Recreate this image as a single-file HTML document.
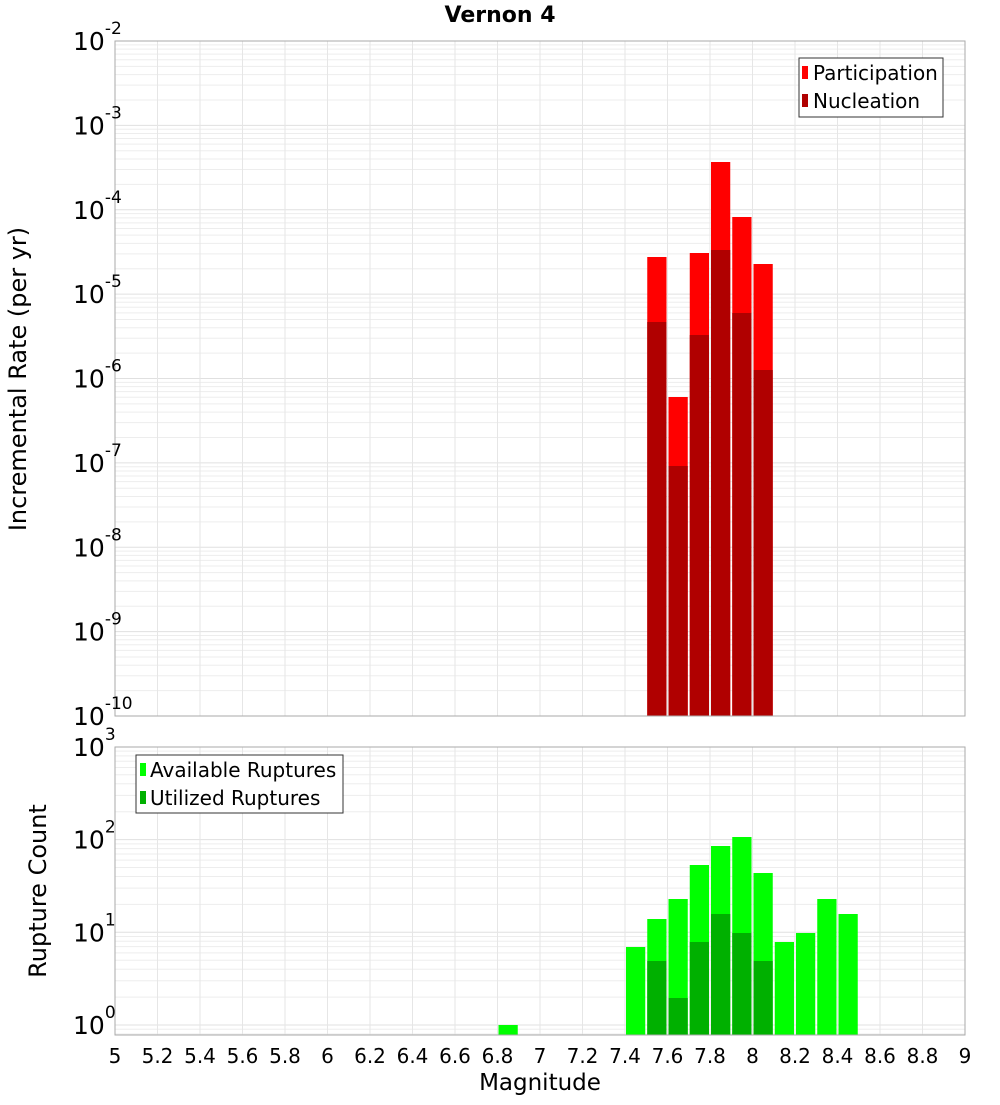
<!DOCTYPE html>
<html><head><meta charset="utf-8"><style>
body{margin:0;background:#fff}
svg text{font-family:"DejaVu Sans","Liberation Sans",sans-serif}
</style></head><body>
<svg id="s" width="1000" height="1100" xmlns="http://www.w3.org/2000/svg">
<rect width="1000" height="1100" fill="#fff"/>
<g id="grid"></g>
<g id="bars"></g>
<rect x="115" y="41" width="850" height="675" fill="none" stroke="#aaa"/>
<rect x="115" y="747" width="850" height="288" fill="none" stroke="#aaa"/>
<text x="500" y="22" text-anchor="middle" font-size="22" font-weight="bold">Vernon 4</text>
<g id="lab" font-size="24"></g>
<text transform="translate(26,379) rotate(-90)" text-anchor="middle" font-size="24">Incremental Rate (per yr)</text>
<text transform="translate(46,891) rotate(-90)" text-anchor="middle" font-size="24">Rupture Count</text>
<text x="540" y="1090" text-anchor="middle" font-size="23">Magnitude</text>
<rect x="799" y="58" width="144" height="59" fill="#fff" stroke="#333"/>
<rect x="802" y="66" width="6" height="13" fill="#f00"/><text x="813" y="80" font-size="20">Participation</text>
<rect x="802" y="94" width="6" height="13" fill="#b00000"/><text x="813" y="108" font-size="20">Nucleation</text>
<rect x="136" y="755" width="207" height="58" fill="#fff" stroke="#333"/>
<rect x="140" y="763" width="6" height="13" fill="#0f0"/><text x="150" y="777" font-size="20">Available Ruptures</text>
<rect x="140" y="791" width="6" height="13" fill="#00b000"/><text x="150" y="805" font-size="20">Utilized Ruptures</text>
</svg>
<script>
const NS="http://www.w3.org/2000/svg";
function el(p,t,a,txt){const e=document.createElementNS(NS,t);for(const k in a)e.setAttribute(k,a[k]);if(txt!==undefined)e.textContent=txt;document.getElementById(p).appendChild(e);return e;}
const X=m=>115+(m-5)*212.5;
const tPx=84.375;
for(let d=0;d<8;d++){for(let k=1;k<10;k++){const y=716-(d+Math.log10(k))*tPx;el("grid","line",{x1:115,x2:965,y1:y,y2:y,stroke:k==1?"#e0e0e0":"#ededed","stroke-width":1});}}
const bTop=747,bPx=92.7,b0=1025;
for(let d=-1;d<3;d++){for(let k=1;k<10;k++){const y=b0-(d+Math.log10(k))*bPx;if(y<bTop||y>1035)continue;el("grid","line",{x1:115,x2:965,y1:y,y2:y,stroke:k==1?"#e0e0e0":"#ededed","stroke-width":1});}}
for(let i=1;i<20;i++){const x=X(5+i*0.2);el("grid","line",{x1:x,x2:x,y1:41,y2:716,stroke:"#e6e6e6"});el("grid","line",{x1:x,x2:x,y1:747,y2:1035,stroke:"#e6e6e6"});}
function bar(m,top,bot,c){const x=X(m-0.05)+1;el("bars","rect",{x:x,y:top,width:19.25,height:bot-top,fill:c});}
const part=[[7.55,257],[7.65,397],[7.75,253],[7.85,162],[7.95,217],[8.05,264]];
const nuc=[[7.55,322],[7.65,466],[7.75,335],[7.85,250],[7.95,313],[8.05,370]];
part.forEach(p=>bar(p[0],p[1],716,"#f00"));nuc.forEach(p=>bar(p[0],p[1],716,"#b00000"));
const av=[[6.85,1025],[7.45,947],[7.55,919],[7.65,899],[7.75,865],[7.85,846],[7.95,837],[8.05,873],[8.15,942],[8.25,933],[8.35,899],[8.45,914]];
const ut=[[7.55,961],[7.65,998],[7.75,942],[7.85,914],[7.95,933],[8.05,961]];
av.forEach(p=>bar(p[0],p[1],1035,"#0f0"));ut.forEach(p=>bar(p[0],p[1],1035,"#00b000"));
function ylab(y,exp){const t=el("lab","text",{x:73,y:y+9,"font-size":25},"10");const s=document.createElementNS(NS,"tspan");s.setAttribute("dy","-16");s.setAttribute("font-size","17");s.textContent=exp;t.appendChild(s);}
for(let d=0;d<=8;d++)ylab(41+d*tPx,String(-2-d));
for(let d=0;d<=3;d++)ylab(b0-d*bPx,String(d));
for(let i=0;i<=20;i++){const m=5+i*0.2;let s=(Math.round(m*10)/10).toString();el("lab","text",{x:X(m),y:1063,"text-anchor":"middle","font-size":20},s);}
</script>
</body></html>
